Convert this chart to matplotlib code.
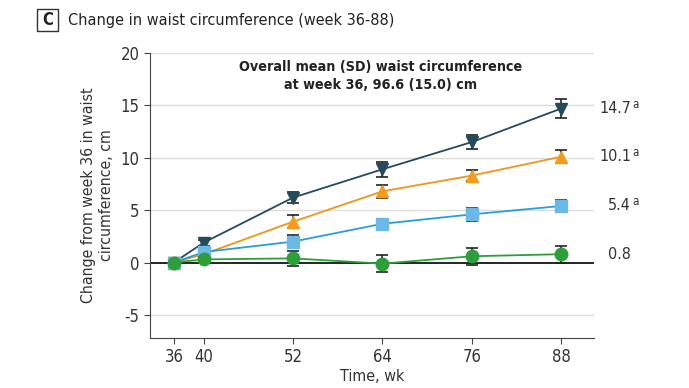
import matplotlib
matplotlib.use("Agg")
import matplotlib.pyplot as plt
from matplotlib.patches import Rectangle

plt.rcParams['font.family'] = ['DejaVu Sans']
plt.rcParams['font.stretch'] = 'condensed'

weeks = [36, 40, 52, 64, 76, 88]
navy = [0, 1.9, 6.2, 8.9, 11.5, 14.7]
navy_err = [0, 0.3, 0.5, 0.7, 0.7, 0.9]
orange = [0, 0.8, 3.9, 6.8, 8.3, 10.1]
orange_err = [0, 0.2, 0.6, 0.6, 0.5, 0.6]
blue = [0, 1.0, 2.0, 3.7, 4.6, 5.4]
blue_err = [0, 0.2, 0.6, 0.5, 0.6, 0.6]
green = [0, 0.3, 0.4, -0.1, 0.6, 0.8]
green_err = [0, 0.2, 0.7, 0.8, 0.8, 0.8]
end_labels = ["14.7", "10.1", "5.4", "0.8"]
end_sup = ["a", "a", "a", ""]
end_pos = [14.7, 10.1, 5.4, 0.8]
yticks = [-5, 0, 5, 10, 15, 20]

fig = plt.figure(figsize=(6.89, 3.88), dpi=100)
ax = fig.add_axes([150/689, 1-338/388, (594-150)/689, (338-53)/388])
ax.set_xlim(32.8, 92.4)
ax.set_ylim(-7.2, 20)

for y in [-5, 5, 10, 15, 20]:
    ax.axhline(y, color='#dddddd', lw=1, zorder=0)
ax.axhline(0, color='black', lw=1.2, zorder=1)

series = [
    (navy, navy_err, '#254a5c', '#254a5c', 'v', 8.5),
    (orange, orange_err, '#f0941c', '#f39c1f', '^', 8.5),
    (blue, blue_err, '#2a9ed8', '#6cb9e8', 's', 8.5),
    (green, green_err, '#2e9e3a', '#2e9e3a', 'o', 9),
]
for i, (vals, err, lc, mc, m, ms) in enumerate(series):
    ax.errorbar(weeks[1:], vals[1:], yerr=err[1:], fmt='none', ecolor='#222222',
                elinewidth=1.2, capsize=4, capthick=1.2, zorder=2 + i)
    ax.plot(weeks, vals, color=lc, lw=1.3, marker=m, markersize=ms,
            markerfacecolor=mc, markeredgecolor=mc, zorder=3 + i)

ax.spines['top'].set_visible(False)
ax.spines['right'].set_visible(False)
ax.spines['left'].set_color('#444444')
ax.spines['bottom'].set_color('#444444')
ax.set_xticks(weeks)
ax.set_yticks(yticks)
ax.set_yticklabels([f"{t}" if t >= 0 else f"-{abs(t)}" for t in yticks])
ax.tick_params(axis='both', labelsize=12, color='#444444', labelcolor='#333333', length=4)
ax.set_xlabel("Time, wk", fontsize=11.5, color='#333333', labelpad=2)
ax.set_ylabel("Change from week 36 in waist\ncircumference, cm", fontsize=11.3,
              color='#333333', labelpad=5, linespacing=1.25)

ax.text(63.7, 17.8, "Overall mean (SD) waist circumference\nat week 36, 96.6 (15.0) cm",
        ha='center', va='center', fontsize=10.3, fontweight='bold', color='#222222',
        linespacing=1.4)

for lab, sup, pos in zip(end_labels, end_sup, end_pos):
    ax.text(1.0 + 37/444, pos, lab, transform=ax.get_yaxis_transform(), ha='right',
            va='center', fontsize=11.5, color='#333333', clip_on=False)
    if sup:
        ax.text(1.0 + 38/444, pos + 0.4, sup, transform=ax.get_yaxis_transform(), ha='left',
                va='center', fontsize=8.5, color='#333333', clip_on=False)

fig.patches.append(Rectangle((37/689, 1-31/388), 21/689, 22/388, transform=fig.transFigure,
                             fill=False, edgecolor='#333333', lw=1))
fig.text(47.5/689, 1-20/388, "C", ha='center', va='center', fontsize=12, fontweight='bold',
         color='#222222')
fig.text(68/689, 1-20/388, "Change in waist circumference (week 36-88)", ha='left',
         va='center', fontsize=11.6, color='#222222')

fig.savefig("out.png", dpi=100)
